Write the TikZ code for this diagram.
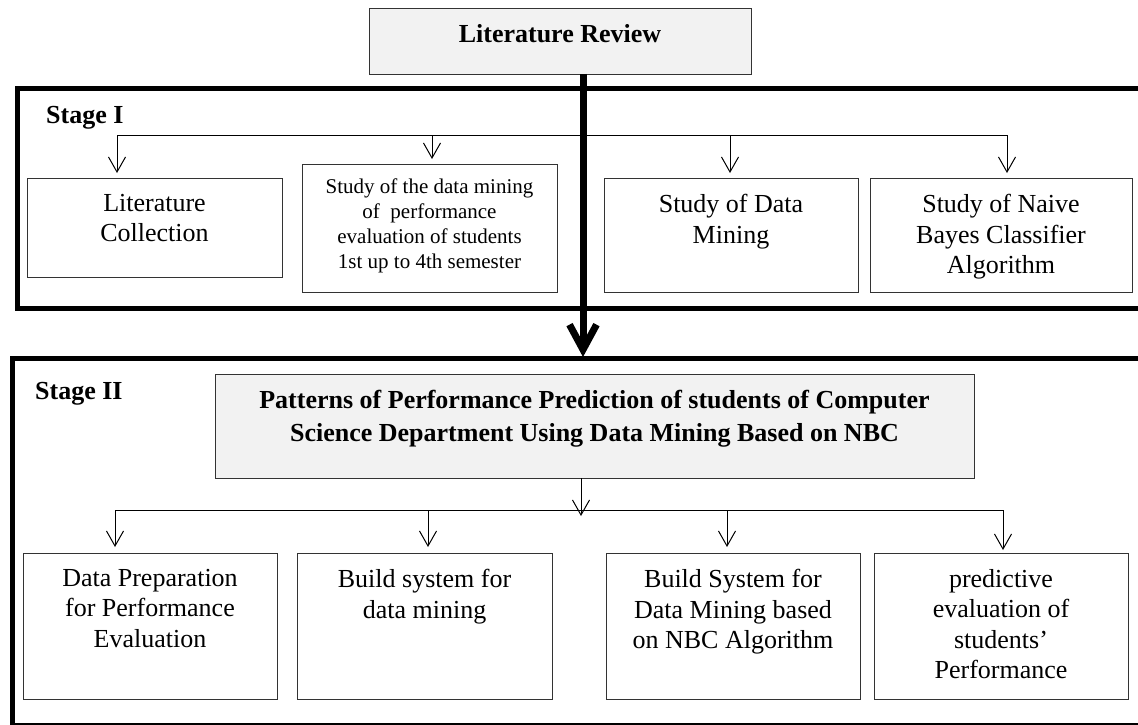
\documentclass[tikz,border=0pt]{standalone}
\usepackage{fontspec}
\setmainfont{Liberation Serif}
\usepackage{tikz}
\usetikzlibrary{arrows.meta}

\tikzset{
    box/.style={draw=black!80, line width=0.9pt, inner sep=0pt, outer sep=0pt, anchor=north west},
    headbox/.style={box, fill=black!5},
    stagebox/.style={draw, line width=5pt, inner sep=0pt, outer sep=0pt, anchor=north west},
    txt/.style={align=center, inner sep=0pt, anchor=north, font=\fontsize{26pt}{30.5pt}\selectfont},
    smalltxt/.style={txt, font=\fontsize{21pt}{24.7pt}\selectfont},
    headtxt/.style={txt, font=\fontsize{26pt}{33pt}\selectfont\bfseries},
    stagetxt/.style={inner sep=0pt, anchor=north west, font=\fontsize{26pt}{30pt}\selectfont\bfseries},
    link/.style={line width=1pt},
    arr/.style={line width=1pt, -{Straight Barb[length=15pt, width=17pt]}},
    bigarr/.style={line width=7pt, -{Straight Barb[length=25pt, width=27pt]}}
}

\begin{document}
\begin{tikzpicture}[x=1pt, y=-1pt]
        \useasboundingbox (0,0) rectangle (1138,725);
        \clip (0,0) rectangle (1138,725);

        % the two stage frames, cut off on the right
        \node[stagebox, minimum width=1140pt, minimum height=220pt] (stageone) at (17,88.5) {};
        \node[stagebox, minimum width=1140pt, minimum height=367pt] (stagetwo) at (12,358.5) {};

        \node[stagetxt] (stageonetxt) at (46,106) {Stage I};
        \node[stagetxt] (stagetwotxt) at (35,382) {Stage II};

        % top box
        \node[headbox, minimum width=382pt, minimum height=66pt] (litrev) at (369,8) {};
        \node[headtxt] (litrevtxt) at ([yshift=-16pt]litrev.north) {Literature Review};

        % stage I boxes
        \node[box, minimum width=255pt, minimum height=99pt] (litcol) at (27,178) {};
        \node[box, minimum width=255pt, minimum height=128pt] (studymin) at (302,164) {};
        \node[box, minimum width=254pt, minimum height=114pt] (studydm) at (604,178) {};
        \node[box, minimum width=262pt, minimum height=114pt] (studynb) at (870,178) {};

        \node[txt] (litcoltxt) at ([yshift=-16pt]litcol.north) {Literature\\Collection};
        \node[smalltxt] (studymintxt) at ([yshift=-15pt]studymin.north) {Study of the data mining\\of\ \ performance\\evaluation of students\\1st up to 4th semester};
        \node[txt] (studydmtxt) at ([yshift=-16pt]studydm.north) {Study of Data\\Mining};
        \node[txt] (studynbtxt) at ([yshift=-16pt]studynb.north) {Study of Naive\\Bayes Classifier\\Algorithm};

        % stage II boxes
        \node[headbox, minimum width=759pt, minimum height=104pt] (pattern) at (215,374) {};
        \node[headtxt] (patterntxt) at ([yshift=-16pt]pattern.north) {Patterns of Performance Prediction of students of Computer\\Science Department Using Data Mining Based on NBC};

        \node[box, minimum width=254pt, minimum height=146pt] (dataprep) at (23,553) {};
        \node[box, minimum width=255pt, minimum height=146pt] (buildsys) at (297,553) {};
        \node[box, minimum width=254pt, minimum height=146pt] (buildnbc) at (606,553) {};
        \node[box, minimum width=254pt, minimum height=146pt] (predeval) at (874,553) {};

        \node[txt] (dataproptxt) at ([yshift=-16pt]dataprep.north) {Data Preparation\\for Performance\\Evaluation};
        \node[txt] (buildsystxt) at ([yshift=-16pt]buildsys.north) {Build system for\\data mining};
        \node[txt] (buildnbctxt) at ([yshift=-16pt]buildnbc.north) {Build System for\\Data Mining based\\on NBC Algorithm};
        \node[txt] (predevaltxt) at ([yshift=-16pt]predeval.north) {predictive\\evaluation of\\students’\\Performance};

        % stage I fork
        \coordinate (forkone) at (117,135);
        \coordinate (forkoneb) at (432,135);
        \coordinate (forkonec) at (730,135);
        \coordinate (forkonee) at (1007,135);
        \draw[link] (forkone) -- (forkonee);
        \draw[arr] (forkone) -- ([yshift=5pt]forkone |- litcol.north);
        \draw[arr] (forkoneb) -- ([yshift=5pt]forkoneb |- studymin.north);
        \draw[arr] (forkonec) -- ([yshift=5pt]forkonec |- studydm.north);
        \draw[arr] (forkonee) -- ([yshift=5pt]forkonee |- studynb.north);

        % stage II fork
        \coordinate (forktwo) at (115,510);
        \coordinate (forktwob) at (428,510);
        \coordinate (forktwoc) at (727,510);
        \coordinate (forktwoe) at (1003,510);
        \coordinate (jointwo) at (581,510);
        \draw[link] (forktwo) -- (forktwoe);
        \draw[arr] (jointwo |- pattern.south) -- ([yshift=-6pt]jointwo);
        \draw[arr] (forktwo) -- ([yshift=6pt]forktwo |- dataprep.north);
        \draw[arr] (forktwob) -- ([yshift=6pt]forktwob |- buildsys.north);
        \draw[arr] (forktwoc) -- ([yshift=6pt]forktwoc |- buildnbc.north);
        \draw[arr] (forktwoe) -- ([yshift=3pt]forktwoe |- predeval.north);

        % main trunk from the review down to stage II
        \coordinate (trunk) at (583,357);
        \draw[bigarr] (trunk |- litrev.south) -- (trunk);

    \end{tikzpicture}
\end{document}
